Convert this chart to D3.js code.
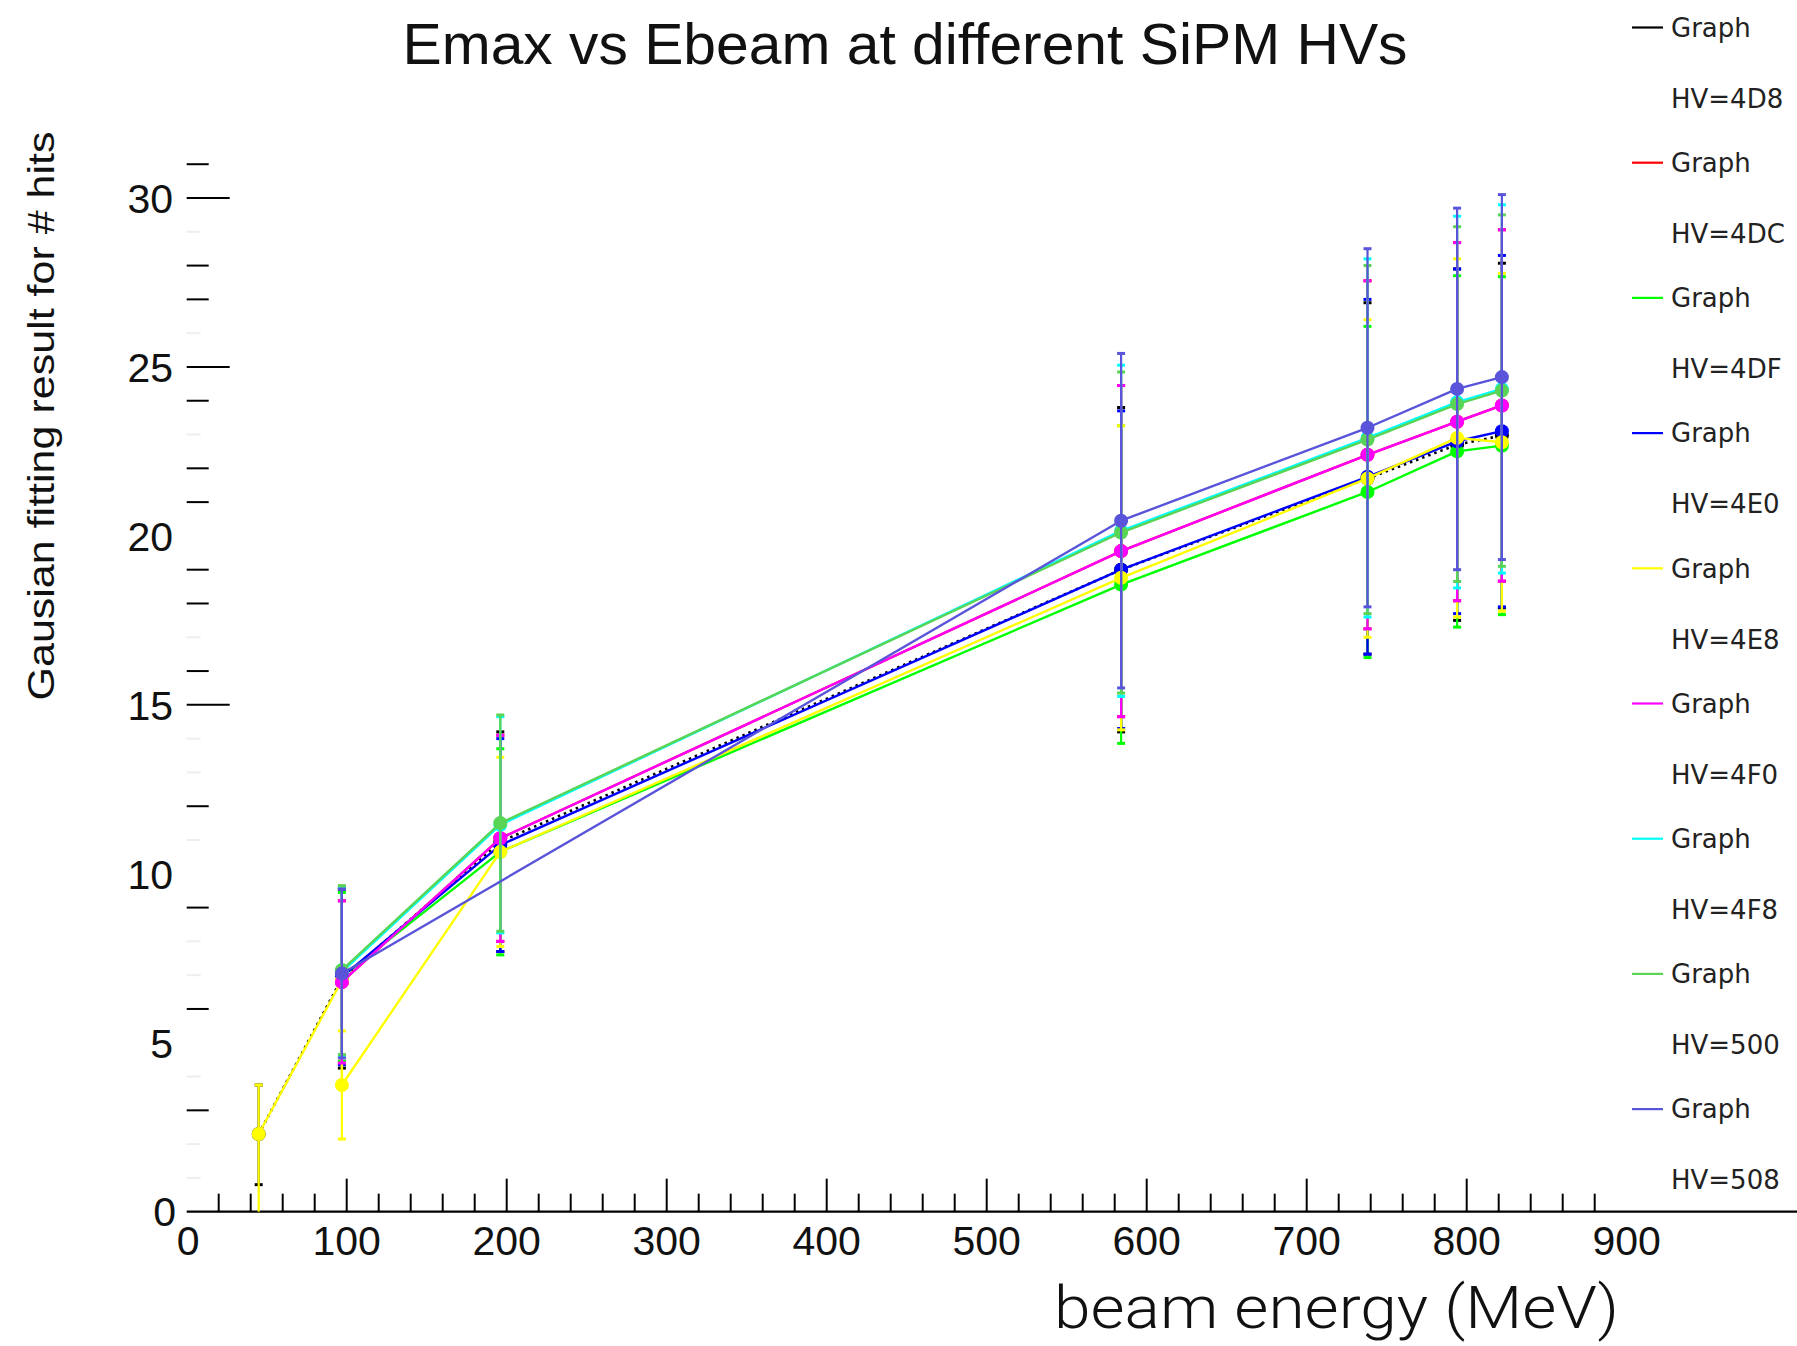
<!DOCTYPE html>
<html><head><meta charset="utf-8">
<script src="https://cdn.jsdelivr.net/npm/d3@7"></script>
<style>body{margin:0;background:#fff}</style>
</head><body><svg id="c" width="1797" height="1346"></svg>
<script>
// ---- data ----
const seriesNames  = ["HV=4D8","HV=4DC","HV=4DF","HV=4E0","HV=4E8","HV=4F0","HV=4F8","HV=500","HV=508"];
const seriesColors = ["#000000","#ff0000","#00ff00","#0000ff","#ffff00","#ff00ff","#00ffff","#59d454","#5954d9"];
// each point: [beam energy (MeV), fitted value, error low, error high]
const hv4D8 = [[45,2.3,1.5,1.45],[97,6.9,2.65,2.65],[196,10.95,3.25,3.25],[584,19.0,4.8,4.8],[738,21.7,5.2,5.2],[794,22.7,5.2,5.2],[822,22.97,5.1,5.1]];
const hv4DC = [[97,6.8,2.4,2.4],[196,11.05,3.05,3.05],[584,19.55,4.9,4.9],[738,22.4,5.15,5.15],[794,23.38,5.3,5.3],[822,23.86,5.2,5.2]];
const hv4DF = [[97,6.95,2.5,2.5],[196,10.65,3.05,3.05],[584,18.56,4.7,4.7],[738,21.3,4.9,4.9],[794,22.5,5.2,5.2],[822,22.67,5.0,5.0]];
const hv4E0 = [[97,6.95,2.6,2.6],[196,10.85,3.15,3.15],[584,19.0,4.7,4.7],[738,21.75,5.25,5.25],[794,22.8,5.1,5.1],[822,23.1,5.2,5.2]];
const hv4E8 = [[45,2.3,2.3,1.45],[97,6.85,0,0],[97,3.75,1.6,1.6],[196,10.65,2.8,2.8],[584,18.76,4.5,4.5],[738,21.7,4.7,4.7],[794,22.9,5.3,5.3],[822,22.77,5.0,5.0]];
const hv4F0 = [[97,6.8,2.4,2.4],[196,11.05,3.05,3.05],[584,19.55,4.9,4.9],[738,22.4,5.15,5.15],[794,23.38,5.3,5.3],[822,23.86,5.2,5.2]];
const hv4F8 = [[97,7.1,2.5,2.5],[196,11.45,3.2,3.2],[584,20.15,4.9,4.9],[738,22.9,5.3,5.3],[794,23.96,5.5,5.5],[822,24.35,5.45,5.45]];
const hv500 = [[97,7.15,2.5,2.5],[196,11.5,3.2,3.2],[584,20.1,4.75,4.75],[738,22.85,5.15,5.15],[794,23.9,5.25,5.25],[822,24.3,5.2,5.2]];
const hv508 = [[97,7.05,2.5,2.5],[584,20.45,4.95,4.95],[738,23.2,5.3,5.3],[794,24.35,5.35,5.35],[822,24.7,5.4,5.4]];
const seriesData = [hv4D8,hv4DC,hv4DF,hv4E0,hv4E8,hv4F0,hv4F8,hv500,hv508];

const xTickLabels = [0,100,200,300,400,500,600,700,800,900];
const xMajorTicks = [100,200,300,400,500,600,700,800];
const xMinorTicks = d3.range(20, 900, 20).filter(v => v % 100 !== 0);
const yTickLabels = [0,5,10,15,20,25,30];
const yMajorTicks = [15,25,30];
const yMinorTicks = [3,6,9,12,16,18,19,21,22,24,27,28,31];
const yFaintTicks = [1,2,4,7,8,11,13,14,17,23,26,29];

// ---- layout ----
const svg = d3.select("#c");
const x = d3.scaleLinear().domain([0, 900]).range([186.7, 1626.7]);
const y = d3.scaleLinear().domain([0, 30]).range([1211.7, 198]);
const FONT = "'Liberation Sans', Arial, Helvetica, sans-serif";

// title
svg.append("text").attr("x", 905).attr("y", 64).attr("text-anchor", "middle")
  .attr("font-family", FONT).attr("font-size", 57).attr("fill", "#111")
  .attr("textLength", 1005).attr("lengthAdjust", "spacingAndGlyphs")
  .text("Emax vs Ebeam at different SiPM HVs");

// x axis
const gx = svg.append("g");
gx.append("line").attr("x1", x(0)).attr("x2", 1797).attr("y1", y(0)).attr("y2", y(0))
  .attr("stroke", "#000").attr("stroke-width", 2.2);
gx.selectAll(".xmaj").data(xMajorTicks).join("line")
  .attr("x1", d => x(d)).attr("x2", d => x(d)).attr("y1", y(0)).attr("y2", y(0) - 33)
  .attr("stroke", "#000").attr("stroke-width", 2);
gx.selectAll(".xmin").data(xMinorTicks).join("line")
  .attr("x1", d => x(d)).attr("x2", d => x(d)).attr("y1", y(0)).attr("y2", y(0) - 18)
  .attr("stroke", "#000").attr("stroke-width", 2);
gx.selectAll(".xlab").data(xTickLabels).join("text")
  .attr("x", d => x(d) + (d === 0 ? 1.5 : 0)).attr("y", 1255).attr("text-anchor", "middle")
  .attr("font-family", FONT).attr("font-size", 41).attr("fill", "#111")
  .text(d => d);

// y axis
const gy = svg.append("g");
gy.selectAll(".yf").data(yFaintTicks).join("line")
  .attr("x1", x(0)).attr("x2", x(0) + 14).attr("y1", d => y(d)).attr("y2", d => y(d))
  .attr("stroke", "#eeeeee").attr("stroke-width", 2);
gy.selectAll(".ymaj").data(yMajorTicks).join("line")
  .attr("x1", x(0)).attr("x2", x(0) + 43).attr("y1", d => y(d)).attr("y2", d => y(d))
  .attr("stroke", "#000").attr("stroke-width", 2);
gy.selectAll(".ymin").data(yMinorTicks).join("line")
  .attr("x1", x(0)).attr("x2", x(0) + 22).attr("y1", d => y(d)).attr("y2", d => y(d))
  .attr("stroke", "#000").attr("stroke-width", 2);
gy.selectAll(".ylab").data(yTickLabels).join("text")
  .attr("x", d => d === 0 ? 176 : 173).attr("y", d => y(d)).attr("dy", "0.36em")
  .attr("text-anchor", "end").attr("font-family", FONT).attr("font-size", 41).attr("fill", "#111")
  .text(d => d);

// axis titles
svg.append("text").attr("transform", "translate(54,416) rotate(-90)").attr("text-anchor", "middle")
  .attr("font-family", FONT).attr("font-size", 37).attr("fill", "#111")
  .attr("textLength", 569).attr("lengthAdjust", "spacingAndGlyphs")
  .text("Gausian fitting result for # hits");
svg.append("text").attr("x", 1054).attr("y", 1328)
  .attr("font-family", "Roboto, 'Liberation Sans', sans-serif").attr("font-weight", 300)
  .attr("font-size", 60).attr("fill", "#111")
  .attr("textLength", 565).attr("lengthAdjust", "spacingAndGlyphs")
  .text("beam energy (MeV)");

// series
const line = d3.line().x(d => x(d[0])).y(d => y(d[1]));
const plot = svg.append("g");
seriesData.forEach((pts, i) => {
  const c = seriesColors[i];
  const g = plot.append("g");
  g.append("path").datum(pts).attr("d", line).attr("fill", "none")
    .attr("stroke", c).attr("stroke-width", i === 0 ? 2.6 : 2.4)
    .attr("stroke-dasharray", i === 0 ? "2.5,4" : null)
    .attr("stroke-linejoin", "round");
  const eb = pts.filter(d => d[2] > 0 || d[3] > 0);
  g.selectAll(".eb").data(eb).join("line")
    .attr("x1", d => x(d[0])).attr("x2", d => x(d[0]))
    .attr("y1", d => y(Math.max(0, d[1] - d[2]))).attr("y2", d => y(d[1] + d[3]))
    .attr("stroke", c).attr("stroke-width", 2.2);
  g.selectAll(".capt").data(eb).join("line")
    .attr("x1", d => x(d[0]) - 4).attr("x2", d => x(d[0]) + 4)
    .attr("y1", d => y(d[1] + d[3])).attr("y2", d => y(d[1] + d[3]))
    .attr("stroke", c).attr("stroke-width", 3);
  g.selectAll(".capb").data(eb.filter(d => d[1] - d[2] > 0.05)).join("line")
    .attr("x1", d => x(d[0]) - 4).attr("x2", d => x(d[0]) + 4)
    .attr("y1", d => y(d[1] - d[2])).attr("y2", d => y(d[1] - d[2]))
    .attr("stroke", c).attr("stroke-width", 3);
  g.selectAll(".mk").data(pts).join("circle")
    .attr("cx", d => x(d[0])).attr("cy", d => y(d[1])).attr("r", 7)
    .attr("fill", c);
});

// legend
const lg = svg.append("g");
seriesNames.forEach((name, i) => {
  const yy = 27.5 + 135.2 * i;
  lg.append("line").attr("x1", 1632).attr("x2", 1663).attr("y1", yy).attr("y2", yy)
    .attr("stroke", seriesColors[i]).attr("stroke-width", 2.2);
  lg.append("text").attr("x", 1671).attr("y", yy).attr("dy", "0.36em")
    .attr("font-family", "'DejaVu Sans', sans-serif").attr("font-size", 26).attr("fill", "#222")
    .text("Graph");
  lg.append("text").attr("x", 1671).attr("y", yy + 71).attr("dy", "0.36em")
    .attr("font-family", "'DejaVu Sans', sans-serif").attr("font-size", 26).attr("fill", "#222")
    .text(name);
});
</script>
</body></html>
